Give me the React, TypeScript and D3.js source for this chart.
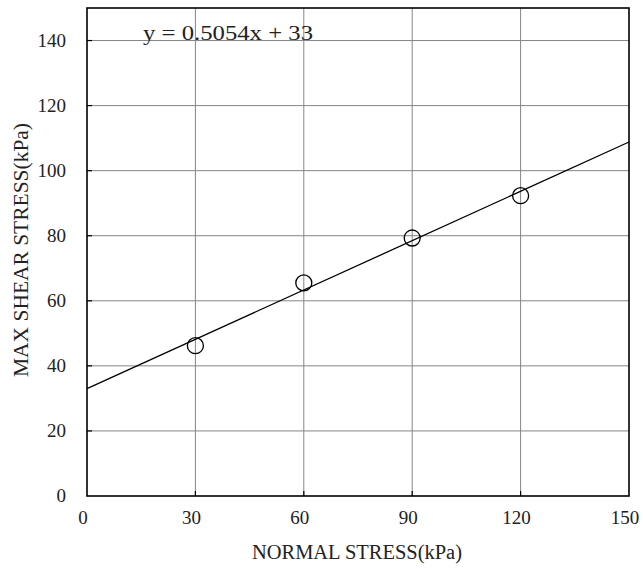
import React from "react";
import * as d3 from "d3";

// Measured peak shear stress vs applied normal stress
const normalStress = [30, 60, 90, 120];
const maxShearStress = [46.2, 65.5, 79.3, 92.3];

// Fitted strength envelope: y = slope * x + intercept
const fitSlope = 0.5054;
const fitIntercept = 33;
const equationLabel = "y = 0.5054x + 33";

const xTicks = [0, 30, 60, 90, 120, 150];
const yTicks = [0, 20, 40, 60, 80, 100, 120, 140];

const xTitle = "NORMAL STRESS(kPa)";
const yTitle = "MAX SHEAR STRESS(kPa)";

const W = 643;
const H = 569;
const margin = { left: 87, right: 14, top: 8, bottom: 73 };
const FONT = "'Liberation Serif', 'Times New Roman', serif";

export default function App() {
  const x = d3
    .scaleLinear()
    .domain([0, 150])
    .range([margin.left, W - margin.right]);
  const y = d3
    .scaleLinear()
    .domain([0, 150])
    .range([H - margin.bottom, margin.top]);

  const [x0, x1] = x.range();
  const [yb, yt] = y.range();

  const fitLine = d3
    .line<number>()
    .x((d) => x(d))
    .y((d) => y(fitSlope * d + fitIntercept));

  return (
    <svg
      width={W}
      height={H}
      style={{ position: "absolute", left: 0, top: 0, background: "#fff" }}
      fontFamily={FONT}
    >
      {/* grid */}
      {xTicks.slice(1, -1).map((t) => (
        <line key={"gx" + t} x1={x(t)} x2={x(t)} y1={yt} y2={yb} stroke="#858585" strokeWidth={1} />
      ))}
      {yTicks.slice(1).map((t) => (
        <line key={"gy" + t} x1={x0} x2={x1} y1={y(t)} y2={y(t)} stroke="#858585" strokeWidth={1} />
      ))}

      {/* inward tick marks */}
      {xTicks.slice(1, -1).map((t) => (
        <line key={"tx" + t} x1={x(t)} x2={x(t)} y1={yb} y2={yb - 5} stroke="#000" strokeWidth={1.2} />
      ))}
      {yTicks.slice(1).map((t) => (
        <line key={"ty" + t} x1={x0} x2={x0 + 5} y1={y(t)} y2={y(t)} stroke="#000" strokeWidth={1.2} />
      ))}

      {/* fit line */}
      <path d={fitLine([0, 150]) ?? ""} fill="none" stroke="#000" strokeWidth={1.3} />

      {/* data points */}
      {normalStress.map((v, i) => (
        <circle
          key={"p" + i}
          cx={x(v)}
          cy={y(maxShearStress[i])}
          r={8}
          fill="none"
          stroke="#000"
          strokeWidth={1.3}
        />
      ))}

      {/* frame */}
      <rect x={x0} y={yt} width={x1 - x0} height={yb - yt} fill="none" stroke="#000" strokeWidth={1.6} />

      {/* tick labels */}
      {xTicks.map((t) => (
        <text key={"lx" + t} x={x(t) - 4} y={524} textAnchor="middle" fontSize={19} fill="#222">
          {t}
        </text>
      ))}
      {yTicks.map((t) => (
        <text key={"ly" + t} x={66} y={y(t) + 6} textAnchor="end" fontSize={19} fill="#222">
          {t}
        </text>
      ))}

      {/* equation */}
      <text x={143} y={40} fontSize={20} fill="#222" textLength={170} lengthAdjust="spacingAndGlyphs">
        {equationLabel}
      </text>

      {/* axis titles */}
      <text x={357} y={559} textAnchor="middle" fontSize={20} fill="#222" textLength={210} lengthAdjust="spacingAndGlyphs">
        {xTitle}
      </text>
      <text
        transform={`translate(28, 250) rotate(-90)`}
        textAnchor="middle"
        fontSize={20}
        fill="#222"
        textLength={254}
        lengthAdjust="spacingAndGlyphs"
      >
        {yTitle}
      </text>
    </svg>
  );
}
